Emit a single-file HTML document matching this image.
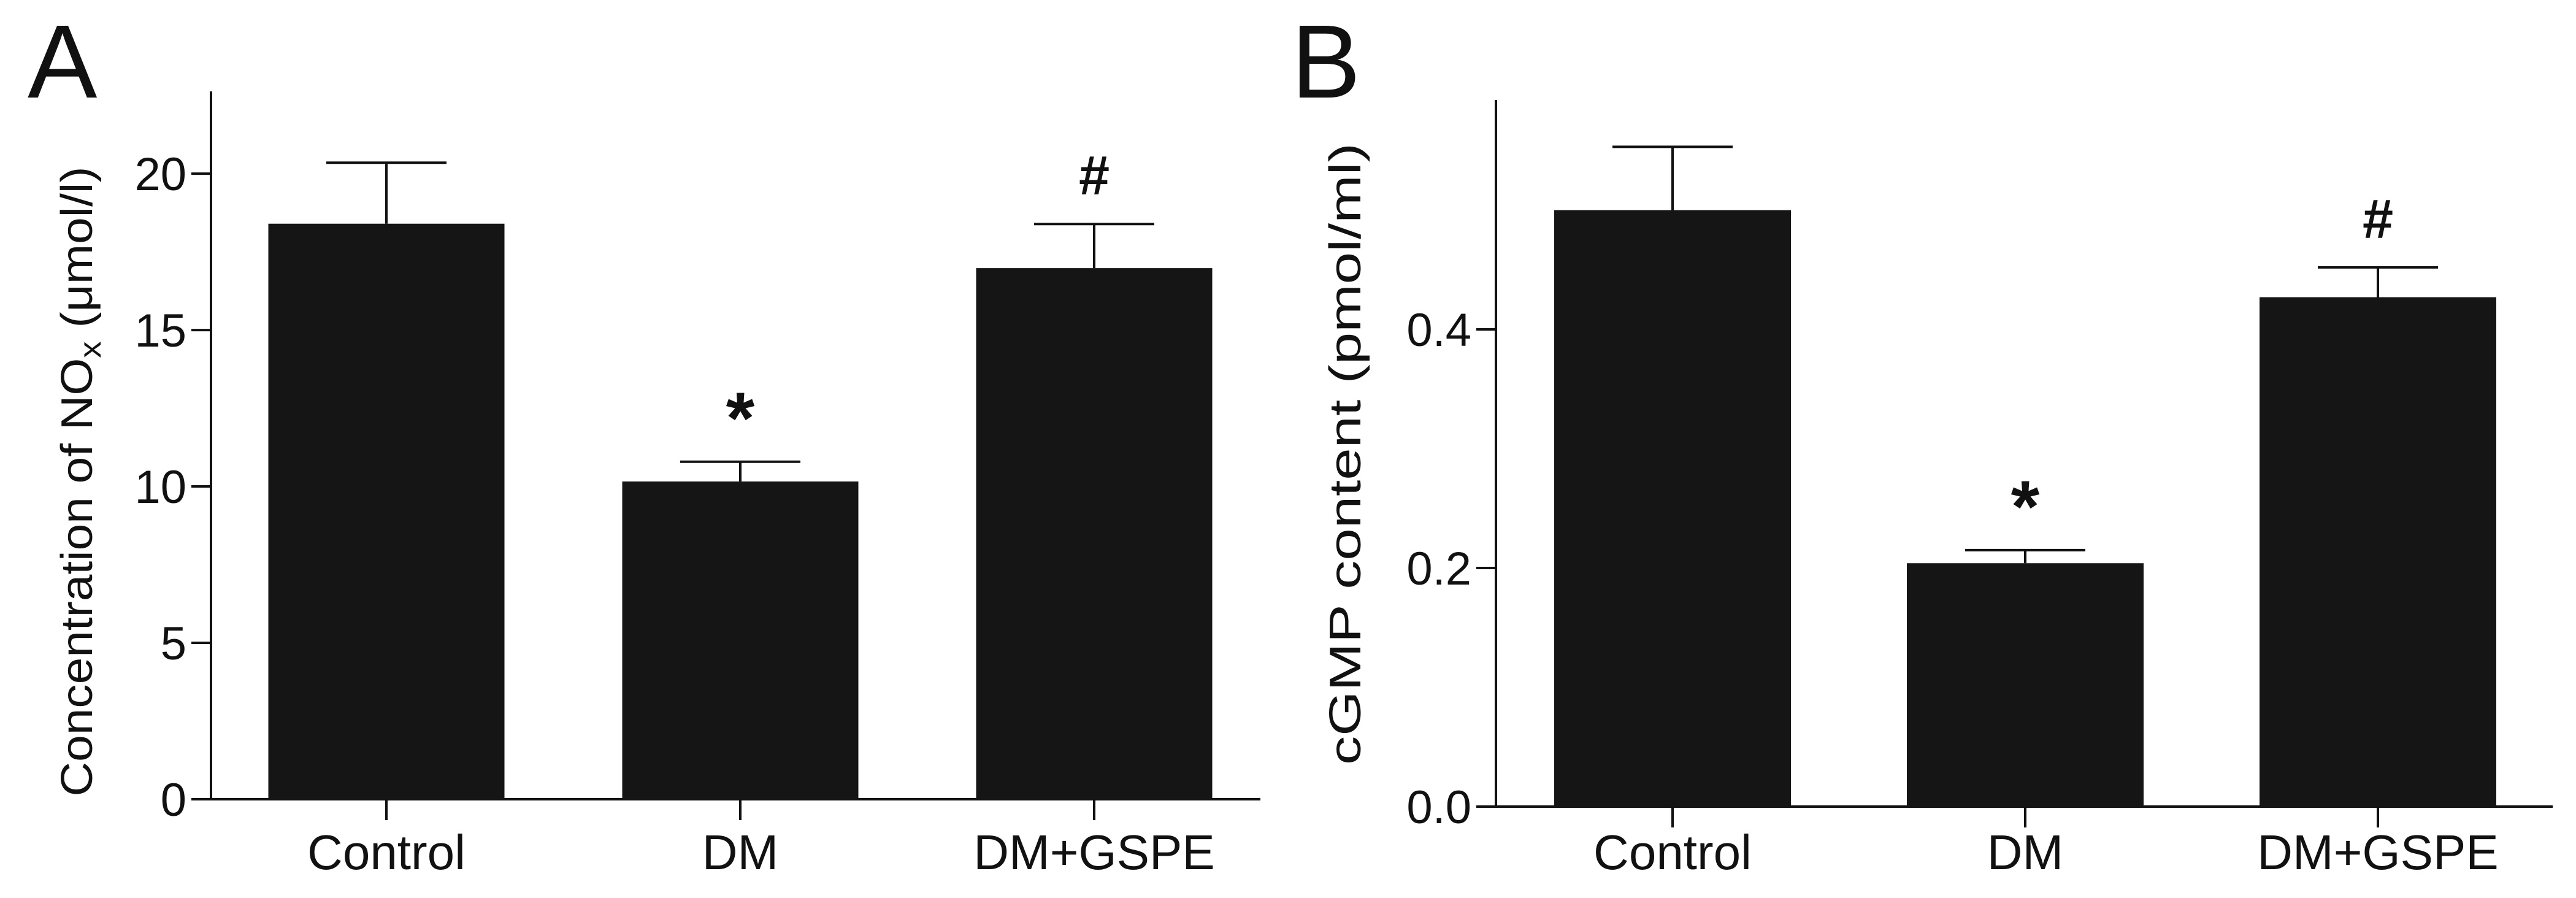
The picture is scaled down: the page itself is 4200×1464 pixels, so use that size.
<!DOCTYPE html>
<html><head><meta charset="utf-8"><style>
html,body{margin:0;padding:0;background:#fff;}
svg{display:block;}
text{font-family:"Liberation Sans Narrow","Liberation Sans",sans-serif;fill:#111;}
</style></head><body>
<svg id="chart" width="4200" height="1464" viewBox="0 0 4200 1464" xmlns="http://www.w3.org/2000/svg">
<text x="45" y="159" font-size="170" style="font-family:'Liberation Sans',sans-serif">A</text>
<text x="2105" y="159" font-size="170" style="font-family:'Liberation Sans',sans-serif">B</text>
<g id="pa"></g>
<g id="pb"></g>
</svg>
<script>
const categories = ["Control", "DM", "DM+GSPE"];
const noxValues = [18.4, 10.16, 16.98];
const noxErrors = [1.95, 0.63, 1.41];
const noxTicks = [0, 5, 10, 15, 20];
const noxMarks = ["", "*", "#"];
const cgmpValues = [0.50, 0.204, 0.427];
const cgmpErrors = [0.053, 0.011, 0.025];
const cgmpTicks = [0.0, 0.2, 0.4];
const cgmpMarks = ["", "*", "#"];

const NS = "http://www.w3.org/2000/svg";
function mk(parent, tag, attrs, txt) {
  const e = document.createElementNS(NS, tag);
  for (const k in attrs) e.setAttribute(k, attrs[k]);
  if (txt !== undefined) e.textContent = txt;
  parent.appendChild(e);
  return e;
}
function panel(g, cfg, vals, errs, ticks, marks, tickFmt) {
  const y = v => cfg.y0 - (v - 0) / cfg.vmax * (cfg.y0 - cfg.ytop);
  const x = i => cfg.x0 + cfg.first + i * cfg.step;
  let a = mk(g, "line", {x1: cfg.ax, y1: cfg.ytop, x2: cfg.ax, y2: cfg.y0 + 2, stroke: "#111", "stroke-width": 4});
  
  
  a = mk(g, "line", {x1: cfg.ax - 32, y1: cfg.y0, x2: cfg.xend, y2: cfg.y0, stroke: "#111", "stroke-width": 4});
  
  
  ticks.forEach(t => {
    const l = mk(g, "line", {x1: cfg.ax - 32, y1: y(t), x2: cfg.ax, y2: y(t), stroke: "#111", "stroke-width": 4});
    
    
    const tx = mk(g, "text", {x: cfg.ax - 40, y: y(t) + 27, "font-size": 76, "text-anchor": "end"}, tickFmt(t));
    
    
  });
  categories.forEach((c, i) => {
    const cx = x(i);
    const v = vals[i], e = errs[i];
    const r = mk(g, "rect", {x: cx - cfg.bw / 2, y: y(v), width: cfg.bw, height: cfg.y0 - y(v), fill: "#151515"});
    
    
    const el = mk(g, "path", {d: `M${cx},${y(v)}V${y(v + e)}M${cx - 98},${y(v + e)}H${cx + 98}`, stroke: "#111", "stroke-width": 4, fill: "none"});
    
    
    const tk = mk(g, "line", {x1: cx, y1: cfg.y0, x2: cx, y2: cfg.y0 + 34, stroke: "#111", "stroke-width": 4});
    
    
    const lb = mk(g, "text", {x: cx, y: 1417, "font-size": 80, "text-anchor": "middle"}, c);
    
    
    if (marks[i]) {
      const star = marks[i] === "*";
      const m = mk(g, "text", {x: cx, y: y(v + e) - (star ? 30 : 48), "font-size": star ? 120 : 90, "font-weight": "bold", "text-anchor": "middle"}, marks[i]);
      
      
    }
  });
  const t = mk(g, "text", {transform: `translate(${cfg.tx},${cfg.tyc}) rotate(-90)`, "font-size": 72, "text-anchor": "middle", style: "font-family:'Liberation Sans',sans-serif"});
  
  
  cfg.title(t);
}
panel(document.getElementById("pa"),
  {ax: 344, ytop: 149, y0: 1303, vmax: 22.63, x0: 0, first: 630, step: 577, bw: 385, xend: 2055, tx: 150, tyc: 785,
   title: t => { t.setAttribute("textLength", 1027); t.setAttribute("lengthAdjust", "spacingAndGlyphs");
     mk(t, "tspan", {}, "Concentration of NO"); mk(t, "tspan", {dy: 14, "font-size": 50}, "x"); mk(t, "tspan", {dy: -14}, " (\u03bcmol/l)"); }},
  noxValues, noxErrors, noxTicks, noxMarks, v => String(v));
panel(document.getElementById("pb"),
  {ax: 2439, ytop: 163, y0: 1315, vmax: 0.5923, x0: 0, first: 2727, step: 575, bw: 386, xend: 4162, tx: 2218, tyc: 740,
   title: t => { t.setAttribute("textLength", 1014); t.setAttribute("lengthAdjust", "spacingAndGlyphs"); t.textContent = "cGMP content (pmol/ml)"; }},
  cgmpValues, cgmpErrors, cgmpTicks, cgmpMarks, v => v.toFixed(1));
</script>
</body></html>
